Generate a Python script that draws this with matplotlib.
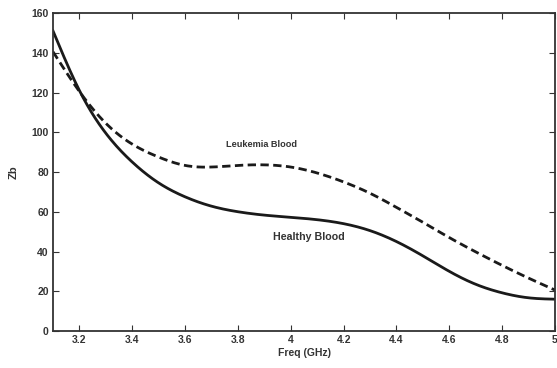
import matplotlib
matplotlib.use("Agg")
import matplotlib.pyplot as plt
import numpy as np

freq = [3.1, 3.2, 3.3, 3.4, 3.5, 3.6, 3.7, 3.8, 3.9, 4.0, 4.1, 4.2, 4.3, 4.4, 4.5, 4.6, 4.7, 4.8, 4.9, 5.0]
healthy = [151, 121, 99.5, 85, 74.5, 67.5, 62.8, 60, 58.3, 57.2, 56, 54, 50.5, 45, 37.8, 30, 23.5, 19.2, 16.7, 16]
leukemia = [140.5, 120.5, 104.5, 94, 87.5, 83.3, 82.5, 83.3, 83.6, 82.5, 79.5, 75, 69.3, 62.2, 54.7, 47, 39.8, 33, 26.6, 20.6]

xticks = [3.2, 3.4, 3.6, 3.8, 4, 4.2, 4.4, 4.6, 4.8, 5]
xticklabels = ["3.2", "3.4", "3.6", "3.8", "4", "4.2", "4.4", "4.6", "4.8", "5"]
yticks = [0, 20, 40, 60, 80, 100, 120, 140, 160]

plt.rcParams['font.family'] = ['Liberation Sans', 'DejaVu Sans']
fig = plt.figure(figsize=(5.57, 3.68), dpi=100)
ax = fig.add_axes([53/557, 1-331/368, (555-53)/557, (331-13)/368])


def spline(x, y, n=500):
    """Natural cubic spline through the read points."""
    x = np.asarray(x, float); y = np.asarray(y, float)
    k = len(x); h = np.diff(x)
    A = np.zeros((k, k)); r = np.zeros(k)
    A[0, 0] = A[-1, -1] = 1
    for i in range(1, k - 1):
        A[i, i-1] = h[i-1]; A[i, i] = 2*(h[i-1] + h[i]); A[i, i+1] = h[i]
        r[i] = 3*((y[i+1]-y[i])/h[i] - (y[i]-y[i-1])/h[i-1])
    c = np.linalg.solve(A, r)
    b = (y[1:]-y[:-1])/h - h*(2*c[:-1] + c[1:])/3
    d = (c[1:]-c[:-1])/(3*h)
    xs = np.linspace(x[0], x[-1], n)
    idx = np.clip(np.searchsorted(x, xs) - 1, 0, k - 2)
    t = xs - x[idx]
    ys = y[idx] + b[idx]*t + c[idx]*t**2 + d[idx]*t**3
    return xs, ys


xs, ys = spline(freq, healthy)
ax.plot(xs, ys, color='#1a1a1a', lw=2.0)
xs, ys = spline(freq, leukemia)
ax.plot(xs, ys, color='#1a1a1a', lw=2.0, linestyle=(0, (3, 1.6)))

ax.set_xlim(3.1, 5.0)
ax.set_ylim(0, 160)
ax.set_xticks(xticks)
ax.set_xticklabels(xticklabels)
ax.set_yticks(yticks)
ax.tick_params(direction='in', length=4, width=0.8, top=True, right=True,
               labelsize=7.5, colors='#333333', pad=3)
for lbl in ax.get_xticklabels() + ax.get_yticklabels():
    lbl.set_fontweight('bold')
for s in ax.spines.values():
    s.set_linewidth(1.3)
    s.set_color('#333333')

ax.set_xlabel('Freq (GHz)', fontsize=7.5, fontweight='bold', color='#333333', labelpad=2)
ax.set_ylabel('Zb', fontsize=8, fontweight='bold', color='#333333', labelpad=9)

ax.text(3.89, 93.6, 'Leukemia Blood', fontsize=6.6, fontweight='bold', color='#333333', ha='center', va='center')
ax.text(4.07, 47.4, 'Healthy Blood', fontsize=7.7, fontweight='bold', color='#333333', ha='center', va='center')

fig.savefig('out.png', dpi=100)
